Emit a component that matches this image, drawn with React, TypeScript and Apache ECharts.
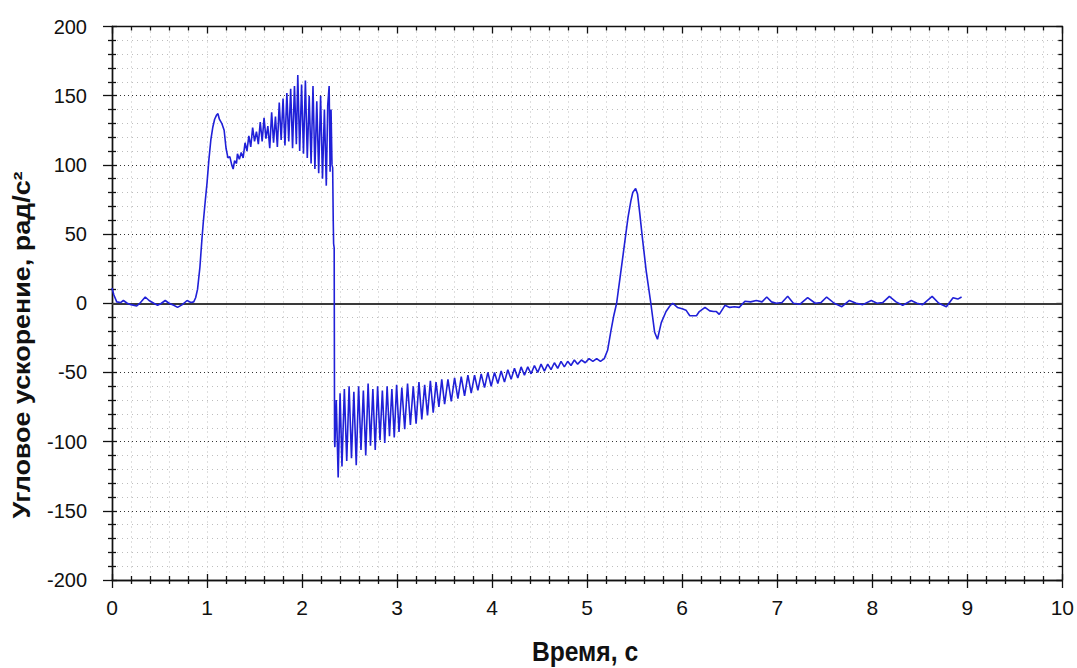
import React, { useEffect, useRef } from "react";
import * as echarts from "echarts";

// time, s
const timeS: number[] = [
  0, 0.02, 0.05, 0.09, 0.12, 0.16, 0.2, 0.26, 0.3, 0.35, 0.39, 0.44, 0.48, 0.52, 0.56, 0.6, 0.65, 0.69, 0.74, 0.79, 0.83, 0.86, 0.88,
  0.9, 0.925, 0.945, 0.96, 0.98, 1.0, 1.02, 1.04, 1.06, 1.08, 1.1, 1.115, 1.13, 1.155, 1.18, 1.2, 1.22, 1.24, 1.26, 1.275, 1.29, 1.31,
  1.32, 1.34, 1.36, 1.38, 1.4, 1.42, 1.44, 1.46, 1.48, 1.5, 1.52, 1.54, 1.56, 1.58, 1.6, 1.62, 1.64, 1.66, 1.68, 1.7, 1.72, 1.74,
  1.76, 1.78, 1.8, 1.82, 1.84, 1.86, 1.88, 1.9, 1.92, 1.94, 1.955, 1.975, 1.995, 2.015, 2.035, 2.055, 2.075, 2.095, 2.115, 2.135,
  2.155, 2.175, 2.195, 2.215, 2.235, 2.255, 2.27, 2.285, 2.295, 2.305, 2.315, 2.322, 2.328, 2.332, 2.338, 2.342,
  2.345, 2.36, 2.38, 2.4, 2.42, 2.445, 2.47, 2.495, 2.52, 2.545, 2.57, 2.595, 2.62, 2.645, 2.67, 2.695, 2.72, 2.745, 2.77, 2.795,
  2.82, 2.845, 2.87, 2.895, 2.92, 2.945, 2.97, 2.995, 3.02, 3.05, 3.08, 3.11, 3.14, 3.17, 3.2, 3.23, 3.26, 3.29, 3.32, 3.35, 3.38,
  3.41, 3.44, 3.47, 3.5, 3.535, 3.57, 3.605, 3.64, 3.675, 3.71, 3.745, 3.78, 3.815, 3.85, 3.885, 3.92, 3.955, 3.99, 4.025, 4.06,
  4.095, 4.13, 4.165, 4.2, 4.235, 4.27, 4.305, 4.34, 4.375, 4.41, 4.445, 4.48, 4.515, 4.55, 4.585, 4.62, 4.655, 4.69, 4.725, 4.76,
  4.795, 4.83, 4.865, 4.9, 4.94, 4.98, 5.02, 5.06, 5.1, 5.14, 5.18,
  5.215, 5.25, 5.28, 5.31, 5.345, 5.38, 5.43, 5.46, 5.48, 5.51, 5.53, 5.555, 5.58, 5.62, 5.67, 5.71, 5.74, 5.76, 5.78, 5.83, 5.87,
  5.9, 5.95, 6.0, 6.04, 6.08, 6.12, 6.15, 6.18, 6.24, 6.29, 6.33, 6.36, 6.39, 6.45, 6.5, 6.55, 6.6, 6.66, 6.72, 6.78, 6.84, 6.89,
  6.94, 6.99, 7.05, 7.11, 7.17, 7.24, 7.32, 7.4, 7.46, 7.52, 7.6, 7.68, 7.76, 7.83, 7.9, 7.99, 8.05, 8.11, 8.18, 8.25, 8.32, 8.41,
  8.47, 8.53, 8.63, 8.7, 8.78, 8.85, 8.9, 8.94,
];

// angular acceleration, rad/s^2
const accel: number[] = [
  11, 6, 1, 0.5, 2, 0, -1, -2, 0.5, 4.5, 2, 0, -1.5, 0, 2, 0, -1.5, -3, -1, 2, 0.5, 1, 4,
  10, 26, 45, 58, 73, 87, 104, 118, 127, 133, 136, 137, 133, 130, 125, 112, 105, 106, 100, 97, 103, 101,
  108, 104, 109, 105, 116, 110, 121, 113, 127, 117, 124, 115, 131, 117, 134, 119, 128, 112, 138, 116, 135, 113,
  145, 118, 148, 114, 152, 117, 155, 112, 157, 115, 165, 110, 158, 108, 161, 105, 150, 101, 157, 97,
  146, 94, 150, 90, 140, 85, 143, 157, 95, 140, 100, 98, 60, 43, 40, -100,
  -104, -70, -126, -65, -118, -62, -114, -60, -112, -64, -117, -60, -106, -63, -110, -58, -103, -62, -106, -60,
  -99, -63, -101, -60, -96, -62, -97, -59, -93, -61, -91, -58, -88, -60, -87, -57, -84, -59, -81, -56, -79,
  -57, -75, -55, -73, -55, -71, -54, -69, -53, -67, -52, -65, -52, -63, -51, -61, -50, -60, -50, -58,
  -49, -57, -48, -55, -47, -54, -46, -52, -46, -51, -45, -50, -44, -49, -44, -48, -43, -47, -42, -46,
  -42, -45, -41, -44, -41, -43, -40, -42, -40, -42, -40,
  -34, -20, -9, 0, 18, 36, 62, 74, 80, 83, 79, 64, 48, 24, 0, -21, -26, -20, -14, -6, -2,
  0, -3, -4, -5, -9, -9, -9, -6, -3, -5.5, -6, -6, -8, -1.5, -3, -2.5, -3, 1.5, 1, 2, 1, 4.5,
  1, 0, 0.5, 5, 0, -0.7, 4, 0, 0.5, 4.5, 0, -2.5, 2, 0, -1, 2, 0, 0.5, 5, 1, -1.5, 2,
  0, -1, 5, 0, -2.5, 4, 3, 4.5,
];

const xTicks = { min: 0, max: 10, interval: 1 };
const yTicks = { min: -200, max: 200, interval: 50 };

const FONT = "Arial, 'Liberation Sans', Helvetica, sans-serif";

export default function App() {
  const ref = useRef<HTMLDivElement>(null);
  useEffect(() => {
    if (!ref.current) return;
    const chart = echarts.init(ref.current, undefined, { renderer: "svg" });
    const data = timeS.map((t, i) => [t, accel[i]]);
    const axisLine = { show: true, onZero: false, lineStyle: { color: "#111", width: 1.4 } };
    const tickStyle = { color: "#111", width: 1.3 };
    const lightDot = { show: true, lineStyle: { color: "#bdbdbd", width: 1, type: [1, 4] as any } };
    const baseX = {
      type: "value" as const,
      min: xTicks.min,
      max: xTicks.max,
      interval: xTicks.interval,
      axisLine,
      minorTick: { show: true, splitNumber: 5, length: 4, lineStyle: tickStyle },
    };
    const baseY = {
      type: "value" as const,
      min: yTicks.min,
      max: yTicks.max,
      interval: yTicks.interval,
      axisLine,
      minorTick: { show: true, splitNumber: 5, length: 4, lineStyle: tickStyle },
    };
    chart.setOption({
      animation: false,
      backgroundColor: "#fff",
      grid: { left: 112, right: 14, top: 26.5, bottom: 88, containLabel: false },
      xAxis: [
        {
          ...baseX,
          position: "bottom",
          axisTick: { show: true, length: 8, inside: false, lineStyle: tickStyle },
          axisLabel: {
            show: true,
            margin: 17,
            fontSize: 21,
            color: "#111",
            fontFamily: FONT,
          },
          splitLine: lightDot,
          minorSplitLine: lightDot,
        },
        {
          ...baseX,
          position: "bottom",
          axisTick: { show: true, length: 6, inside: true, lineStyle: tickStyle },
          axisLabel: { show: false },
          splitLine: { show: false },
        },
        {
          ...baseX,
          position: "top",
          axisTick: { show: true, length: 7, inside: true, lineStyle: tickStyle },
          axisLabel: { show: false },
          splitLine: { show: false },
        },
      ],
      yAxis: [
        {
          ...baseY,
          position: "left",
          axisTick: { show: true, length: 9, inside: false, lineStyle: tickStyle },
          axisLabel: {
            show: true,
            margin: 25,
            fontSize: 20,
            color: "#111",
            fontFamily: FONT,
          },
          splitLine: { show: true, lineStyle: { color: "#333", width: 1, type: [1, 3] as any } },
          minorSplitLine: lightDot,
        },
        {
          ...baseY,
          position: "left",
          axisTick: { show: true, length: 5, inside: true, lineStyle: tickStyle },
          axisLabel: { show: false },
          splitLine: { show: false },
        },
        {
          ...baseY,
          position: "right",
          axisTick: { show: true, length: 6, inside: true, lineStyle: tickStyle },
          axisLabel: { show: false },
          splitLine: { show: false },
        },
      ],
      graphic: [
        {
          type: "text",
          x: 22,
          y: 345,
          rotation: Math.PI / 2,
          scaleX: 1.17,
          style: {
            text: "Угловое ускорение, рад/с²",
            fontSize: 23,
            fontWeight: "bold",
            fontFamily: FONT,
            fill: "#111",
            align: "center",
            verticalAlign: "middle",
          },
        },
        {
          type: "text",
          x: 585,
          y: 651,
          scaleX: 0.88,
          style: {
            text: "Время, с",
            fontSize: 28,
            fontWeight: "bold",
            fontFamily: FONT,
            fill: "#111",
            align: "center",
            verticalAlign: "middle",
          },
        },
      ],
      series: [
        {
          type: "line",
          xAxisIndex: 0,
          yAxisIndex: 0,
          data,
          showSymbol: false,
          symbol: "none",
          lineStyle: { color: "#2020d8", width: 1.6 },
          z: 5,
          markLine: {
            silent: true,
            symbol: "none",
            label: { show: false },
            lineStyle: { color: "#3a3a3a", width: 2, type: "solid" },
            data: [{ yAxis: 0 }],
          },
        },
      ],
    });
    return () => chart.dispose();
  }, []);
  return (
    <div
      ref={ref}
      style={{ position: "absolute", left: 0, top: 0, width: 1077, height: 668 }}
    />
  );
}
